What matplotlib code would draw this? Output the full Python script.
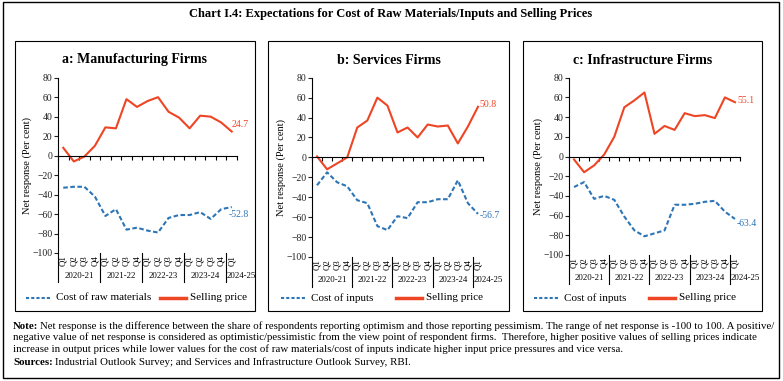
import numpy as np
import matplotlib
matplotlib.use("Agg")
import matplotlib.pyplot as plt
import matplotlib.patches as patches
import matplotlib.transforms as mtransforms

plt.rcParams["font.family"] = ["Liberation Serif", "DejaVu Serif"]

W, H = 783, 381

quarters = ["Q1", "Q2", "Q3", "Q4"] * 4 + ["Q1"]
years = ["2020-21", "2021-22", "2022-23", "2023-24", "2024-25"]

# manufacturing
mfg_cost = [-33, -32, -32, -42, -62, -55, -76, -74, -77, -79, -64, -61, -61, -58, -65, -55, -52.8]
mfg_sell = [8, -6, -1, 10, 29, 28, 58, 50, 56, 60, 45, 39, 28, 41, 40, 34, 24.7]
# services
srv_cost = [-28, -15, -25, -29, -43, -46, -69, -73, -59, -61, -45, -45, -42, -42, -23, -46, -56.7]
srv_sell = [1, -12, -6, 0, 30, 37, 60, 52, 25, 30, 20, 33, 31, 32, 14, 31, 50.8]
# infrastructure
inf_cost = [-31, -26, -43, -40, -44, -61, -75, -81, -78, -75, -49, -49, -48, -46, -45, -56, -63.4]
inf_sell = [-3, -16, -9, 2, 20, 50, 57, 65, 23, 31, 27, 44, 41, 42, 39, 60, 55.1]

titles = ["a: Manufacturing Firms", "b: Services Firms", "c: Infrastructure Firms"]
cost_names = ["Cost of raw materials", "Cost of inputs", "Cost of inputs"]

red = "#EE4524"
blue = "#2E75B6"

fig = plt.figure(figsize=(W / 100, H / 100), dpi=100)


def px_rect(x0, y0, x1, y1, lw=1.0):
  r = patches.Rectangle((x0 / W, 1 - y1 / H), (x1 - x0) / W, (y1 - y0) / H,
                        transform=fig.transFigure, fill=False, lw=lw, color="black")
  fig.patches.append(r)


def px_axes(x0, y0, x1, y1):
  return fig.add_axes([x0 / W, 1 - y1 / H, (x1 - x0) / W, (y1 - y0) / H])


# outer frame + title
px_rect(3, 2, 779, 378, lw=1.0)
fig.text(391 / W, 1 - 14 / H,
         "Chart I.4: Expectations for Cost of Raw Materials/Inputs and Selling Prices",
         ha="center", va="center", fontsize=9, fontweight="bold")

boxes = [(15, 41, 255, 311), (268, 41, 509, 311), (523, 41, 762, 311)]
axpos = [(58, 77.7, 237, 253), (312, 77.7, 483, 257), (569, 77.7, 740, 255)]
costs = [mfg_cost, srv_cost, inf_cost]
sells = [mfg_sell, srv_sell, inf_sell]
leg_x = [(26, 56, 160, 190), (281, 311, 396, 426), (534, 564, 649, 679)]
sell_off = [(0, 5), (1, 2), (1.5, 1)]
cost_off = [(-2, -5.5), (1, -1.5), (1.5, -3)]

x = np.arange(len(quarters))

for i in range(3):
  px_rect(*boxes[i], lw=0.8)
  bx0, by0, bx1, by1 = boxes[i]
  fig.text((bx0 + bx1) / 2 / W, 1 - 60 / H, titles[i], ha="center", va="center",
           fontsize=10, fontweight="bold")

  ax = px_axes(*axpos[i])
  ax.plot(x, costs[i], color=blue, lw=1.5, ls=(0, (2.2, 1.2)))
  ax.plot(x, sells[i], color=red, lw=1.5)
  ax.set_xlim(-0.5, len(x) - 0.5)
  ax.set_ylim(-100, 80)
  ax.set_yticks(np.arange(-100, 81, 20))
  ax.tick_params(axis="y", labelsize=7, length=3, width=0.8, pad=1, colors="#222222")
  for s in ["top", "right"]:
    ax.spines[s].set_visible(False)
  ax.spines["left"].set_linewidth(0.8)
  ax.spines["bottom"].set_position(("data", 0))
  ax.spines["bottom"].set_linewidth(0.8)
  ax.set_xticks(np.arange(-0.5, len(x), 1.0))
  ax.set_xticklabels([])
  ax.tick_params(axis="x", length=3, width=0.8, direction="out")
  ax.patch.set_alpha(0)
  ax.set_ylabel("Net response (Per cent)", fontsize=7.5, labelpad=0)

  tr = mtransforms.blended_transform_factory(ax.transData, ax.transAxes)
  for k, q in enumerate(quarters):
    ax.text(k, -0.012, q, transform=tr, rotation=90, ha="center", va="top", fontsize=6.3)
  for k, yr in enumerate(years):
    if k < 4:
      ax.text(4 * k + 1.5, -0.13, yr, transform=tr, ha="center", va="center", fontsize=6.3)
    else:
      ax.text(15.55, -0.13, yr, transform=tr, ha="left", va="center", fontsize=6.3)
  for b in [-0.5, 3.5, 7.5, 11.5, 15.5]:
    ax.plot([b, b], [0, -0.165], transform=tr, color="black", lw=0.8, clip_on=False)

  ax.annotate(f"{sells[i][-1]}", (x[-1], sells[i][-1]), xytext=sell_off[i],
              textcoords="offset points", color=red, fontsize=7, ha="left", va="center")
  ax.annotate(f"{costs[i][-1]}", (x[-1], costs[i][-1]), xytext=cost_off[i],
              textcoords="offset points", color=blue, fontsize=7, ha="left", va="center")

  # legend
  lx0, lt0, lx1, lt1 = leg_x[i]
  ly = 1 - 298 / H
  fig.add_artist(plt.Line2D([lx0 / W, (lx0 + 26) / W], [ly, ly], color=blue, lw=1.5,
                            ls=(0, (1.5, 1.0)), transform=fig.transFigure))
  fig.text(lt0 / W, ly, cost_names[i], ha="left", va="center", fontsize=8)
  fig.add_artist(plt.Line2D([lx1 / W, (lx1 + 26) / W], [ly, ly], color=red, lw=2.5,
                            transform=fig.transFigure))
  fig.text(lt1 / W, ly, "Selling price", ha="left", va="center", fontsize=8)

note_lines = [
  "Net response is the difference between the share of respondents reporting optimism and those reporting pessimism. The range of net response is -100 to 100. A positive/",
  "negative value of net response is considered as optimistic/pessimistic from the view point of respondent firms.  Therefore, higher positive values of selling prices indicate",
  "increase in output prices while lower values for the cost of raw materials/cost of inputs indicate higher input price pressures and vice versa.",
]
fs = 7.8
renderer = fig.canvas.get_renderer()


def lead_text(y, head, body):
  h = fig.text(13 / W, 1 - y / H, head, fontsize=fs, fontweight="bold", ha="left", va="baseline")
  bb = h.get_window_extent(renderer)
  fig.text(bb.x1 / W + 2 / W, 1 - y / H, body, fontsize=fs, ha="left", va="baseline")


lead_text(329, "Note:", note_lines[0])
fig.text(13 / W, 1 - 340.5 / H, note_lines[1], fontsize=fs, ha="left", va="baseline")
fig.text(13 / W, 1 - 352 / H, note_lines[2], fontsize=fs, ha="left", va="baseline")
lead_text(365, "Sources:", "Industrial Outlook Survey; and Services and Infrastructure Outlook Survey, RBI.")

fig.savefig("out.png", dpi=100)
